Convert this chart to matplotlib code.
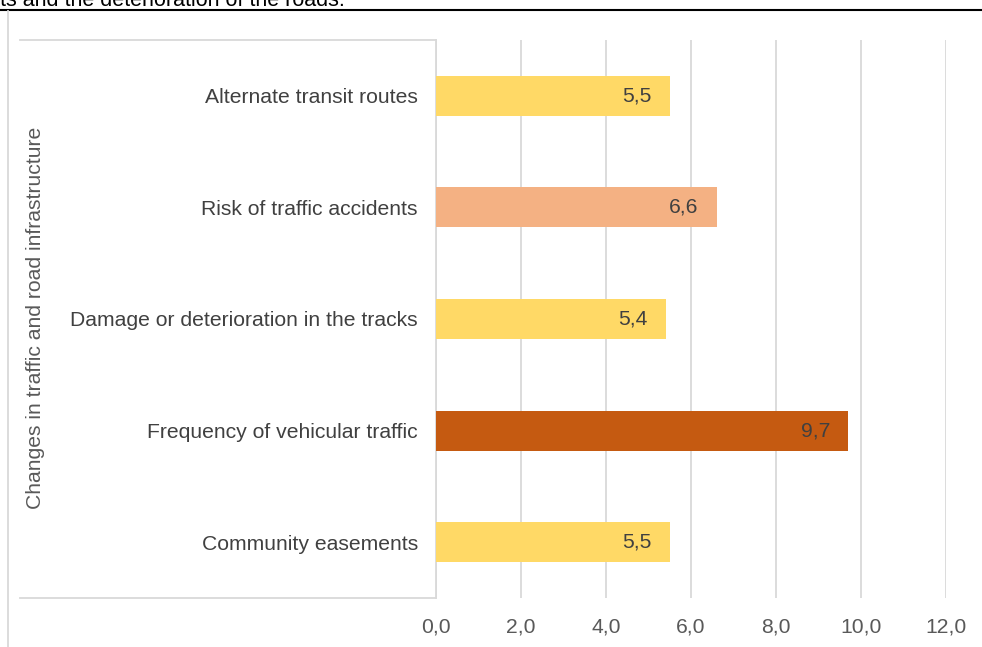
import matplotlib.pyplot as plt
from matplotlib.lines import Line2D

plt.rcParams["font.family"] = ["Liberation Sans", "DejaVu Sans"]

# Data (top to bottom as shown)
categories = [
    "Alternate transit routes",
    "Risk of traffic accidents",
    "Damage or deterioration in the tracks",
    "Frequency of vehicular traffic",
    "Community easements",
]
values = [5.5, 6.6, 5.4, 9.7, 5.5]
bar_colors = ["#FFD966", "#F4B183", "#FFD966", "#C55A11", "#FFD966"]
x_ticks = [0, 2, 4, 6, 8, 10, 12]
axis_title = "Changes in traffic and road infrastructure"
cut_title = "ts and the deterioration of the roads."

W, H = 982, 647
fig = plt.figure(figsize=(W / 100, H / 100), dpi=100)

# plot area in pixels
left_px, right_px, top_px, bottom_px = 436, 946, 40, 598
ax = fig.add_axes([left_px / W, 1 - bottom_px / H,
                   (right_px - left_px) / W, (bottom_px - top_px) / H])

ypos = list(range(len(categories)))[::-1]
ax.barh(ypos, values, height=0.36, color=bar_colors, zorder=3)

fs = 15.2
for y, v in zip(ypos, values):
    ax.annotate(f"{v:.1f}".replace(".", ","), (v, y), xytext=(-13, 0),
                textcoords="offset points", ha="right", va="center",
                fontsize=fs, color="#404040", zorder=4)

ax.set_xlim(0, 12)
ax.set_ylim(-0.5, len(categories) - 0.5)
ax.set_xticks(x_ticks)
ax.set_xticklabels([f"{t:.1f}".replace(".", ",") for t in x_ticks])
ax.set_yticks(ypos)
ax.set_yticklabels(categories)
ax.tick_params(axis="x", length=0, pad=14, labelsize=fs, labelcolor="#595959")
ax.tick_params(axis="y", length=0, pad=13, labelsize=fs, labelcolor="#404040")
ax.grid(axis="x", color="#D9D9D9", linewidth=1.3, zorder=0)
for side in ["top", "right", "bottom"]:
    ax.spines[side].set_visible(False)
ax.spines["left"].set_color("#D9D9D9")
ax.spines["left"].set_linewidth(1.3)

# category box lines (top and bottom) to the left of the axis
for yy in (top_px, bottom_px):
    fig.add_artist(Line2D([20 / W, left_px / W], [1 - yy / H, 1 - yy / H],
                          color="#D9D9D9", linewidth=1.3))

fig.text(36 / W, 1 - 318 / H, axis_title, rotation=90, ha="center", va="center",
         fontsize=fs, color="#595959")

# outer frame pieces
fig.add_artist(Line2D([0, 1], [1 - 9.5 / H, 1 - 9.5 / H], color="black", linewidth=1.5))
fig.add_artist(Line2D([8 / W, 8 / W], [0, 1 - 11 / H], color="#D9D9D9", linewidth=1.3))
fig.text(0, 1 - 5.5 / H, cut_title, ha="left", va="baseline", fontsize=15.5, color="black")

fig.savefig("out.png", dpi=100)
